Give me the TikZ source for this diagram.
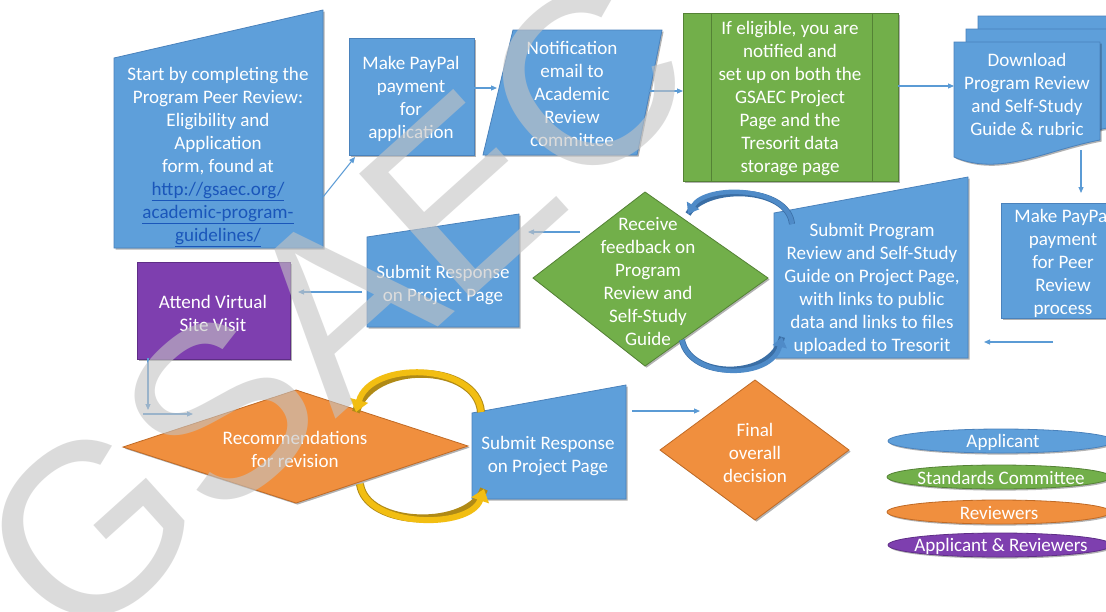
\documentclass[tikz,border=0pt]{standalone}
\usepackage{fontspec}
\setmainfont{Carlito}
\newfontfamily\wmfont{Liberation Sans}
\usetikzlibrary{arrows.meta,shadows}
\definecolor{bfill}{HTML}{5E9FDA}
\definecolor{bdraw}{HTML}{4A82BC}
\definecolor{gfill}{HTML}{72AF4A}
\definecolor{gdraw}{HTML}{548235}
\definecolor{ofill}{HTML}{F08F3E}
\definecolor{odraw}{HTML}{C06A25}
\definecolor{pfill}{HTML}{7E3FAF}
\definecolor{pdraw}{HTML}{5E2D86}
\definecolor{linkc}{HTML}{1A56BA}
\definecolor{conn}{HTML}{5B9BD5}
\definecolor{yfill}{HTML}{F2BE12}
\definecolor{ydraw}{HTML}{B08A16}
\definecolor{carc}{HTML}{4F8BC8}
\definecolor{carcd}{HTML}{3A6EA5}
\definecolor{wmgray}{HTML}{C4C4C4}
\tikzset{
  shd/.style={drop shadow={shadow xshift=1.2pt,shadow yshift=-1.2pt,opacity=0.3,fill=black}},
  bshape/.style={fill=bfill,draw=bdraw,line width=0.6pt,shd},
  gshape/.style={fill=gfill,draw=gdraw,line width=0.6pt,shd},
  oshape/.style={fill=ofill,draw=odraw,line width=0.6pt,shd},
  pshape/.style={fill=pfill,draw=pdraw,line width=0.6pt,shd},
  txt/.style={text=white,align=center,inner sep=0pt,font=\fontsize{14.3}{17.25}\selectfont},
  ltxt/.style={text=white,align=center,inner sep=0pt,font=\fontsize{14.3}{16}\selectfont},
  conarrow/.style={draw=conn,line width=0.8pt,-{Triangle[length=4.5pt,width=3.75pt]}},
  bluearc/.style={draw=carc,line width=3.4pt,-{Triangle[length=7.5pt,width=10.5pt]},
     preaction={draw=carcd,line width=4.5pt,-}},
  yelarc/.style={draw=yfill,line width=4.5pt,-{Triangle[length=9pt,width=13.5pt]},
     preaction={draw=ydraw,line width=6pt,-}},
  wm/.style={font=\wmfont\fontsize{182}{182}\selectfont,text=wmgray,opacity=0.6,rotate=42,inner sep=0pt}
}
\newcommand{\ul}[1]{\underline{#1}}
\begin{document}
\begin{tikzpicture}[x=0.75pt,y=-0.75pt]
\useasboundingbox (0,0) rectangle (1106,611);
\fill[white] (0,0) rectangle (1106,611);

% ---- shapes ----
\path[bshape] (114,58) -- (323,10) -- (323,248) -- (114,248) -- cycle;
\path[bshape] (349,38) rectangle (474,155);
\path[bshape] (483,155) -- (513,30) -- (662,30) -- (637,155) -- cycle;
\path[gshape] (683,13) rectangle (898,181);
\draw[gdraw,line width=0.6pt] (711,13) -- (711,181) (872,13) -- (872,181);
\path[bshape] (978,16) -- (1124,16) -- (1124,114) .. controls (1070,124) and (1024,151) .. (978,131) -- cycle;
\path[bshape] (966,29) -- (1112,29) -- (1112,127) .. controls (1058,137) and (1012,164) .. (966,144) -- cycle;
\path[bshape] (954,42) -- (1100,42) -- (1100,140) .. controls (1046,150) and (1000,177) .. (954,157) -- cycle;
\path[bshape] (1001,203) rectangle (1125,318);
\path[bshape] (774,213) -- (968,177) -- (968,358) -- (774,358) -- cycle;
\path[gshape] (533,278) -- (645,192) -- (768,278) -- (645,366) -- cycle;
\path[bshape] (367,237) -- (519,214) -- (519,327) -- (367,327) -- cycle;
\path[pshape] (137,262) rectangle (290,359);
\path[oshape] (123,447) -- (296,390) -- (468,446) -- (296,503) -- cycle;
\path[bshape] (472,413) -- (626,385) -- (626,499) -- (472,499) -- cycle;
\path[oshape] (660,450) -- (755,380) -- (849,450) -- (755,520) -- cycle;
\path[fill=bfill,draw=bdraw,line width=0.6pt,shd] (1001,441) ellipse [x radius=113,y radius=12];
\path[fill=gfill,draw=gdraw,line width=0.6pt,shd] (999,477) ellipse [x radius=112,y radius=12];
\path[fill=ofill,draw=odraw,line width=0.6pt,shd] (999,512) ellipse [x radius=112,y radius=12];
\path[fill=pfill,draw=pdraw,line width=0.6pt,shd] (1000,545) ellipse [x radius=112,y radius=12];

% ---- texts ----
\node[txt] (start) at (218,157) {Start by completing the\\Program Peer Review:\\Eligibility and\\Application\\form, found at\\
  \textcolor{linkc}{\ul{http://gsaec.org/}}\\\textcolor{linkc}{\ul{academic-program-}}\\\textcolor{linkc}{\ul{guidelines/}}};
\node[txt] (pay1) at (411,99) {Make PayPal\\payment\\for\\application};
\node[txt] (notif) at (572,94) {Notification\\email to\\Academic\\Review\\committee};
\node[txt] (elig) at (790,99) {If eligible, you are\\notified and\\set up on both the\\GSAEC Project\\Page and the\\Tresorit data\\storage page};
\node[txt] (down) at (1027,94) {Download\\Program Review\\and Self-Study\\Guide \& rubric};
\node[txt] (pay2) at (1063,263) {Make PayPal\\payment\\for Peer\\Review\\process};
\node[txt] (subprog) at (872,289) {Submit Program\\Review and Self-Study\\Guide on Project Page,\\with links to public\\data and links to files\\uploaded to Tresorit};
\node[txt] (recv) at (648,282) {Receive\\feedback on\\Program\\Review and\\Self-Study\\Guide};
\node[txt] (subresp1) at (443,285) {Submit Response\\on Project Page};
\node[txt] (visit) at (213,313) {Attend Virtual\\Site Visit};
\node[txt] (recom) at (295,449) {Recommendations\\for revision};
\node[txt] (subresp2) at (548,456) {Submit Response\\on Project Page};
\node[txt] (final) at (755,453) {Final\\overall\\decision};
\node[ltxt] (lg1) at (1003,442) {Applicant};
\node[ltxt] (lg2) at (1001,478) {Standards Committee};
\node[ltxt] (lg3) at (999,513) {Reviewers};
\node[ltxt] (lg4) at (1001,546) {Applicant \& Reviewers};

% ---- connector coordinates ----
\coordinate (c1s) at (323,197); \coordinate (c1e) at (355,157);
\coordinate (c2s) at (474,88);  \coordinate (c2e) at (497,88);
\coordinate (c3s) at (648,91);  \coordinate (c3e) at (683,91);
\coordinate (c4s) at (898,86);  \coordinate (c4e) at (954,86);
\coordinate (c5s) at (1081,150);\coordinate (c5e) at (1081,193);
\coordinate (c6s) at (1053,342);\coordinate (c6e) at (984,342);
\coordinate (c7s) at (580,232); \coordinate (c7e) at (528,232);
\coordinate (c8s) at (362,292); \coordinate (c8e) at (298,292);
\coordinate (c9s) at (148,358); \coordinate (c9e) at (148,410);
\coordinate (c10s) at (143,414);\coordinate (c10e) at (193,414);
\coordinate (c11s) at (632,411);\coordinate (c11e) at (700,411);
\foreach \i in {1,...,11} {\draw[conarrow] (c\i s) -- (c\i e);}

% curved arrows
\coordinate (b1s) at (792,224); \coordinate (b1e) at (688,214);
\coordinate (b2s) at (682,340); \coordinate (b2e) at (782,337);
\draw[bluearc] (b1s) .. controls (788,186) and (706,184) .. (b1e);
\draw[bluearc] (b2s) .. controls (690,380) and (772,380) .. (b2e);
\coordinate (y1s) at (481,412); \coordinate (y1e) at (356,412);
\coordinate (y2s) at (360,484); \coordinate (y2e) at (484,489);
\draw[yelarc] (y1s) .. controls (477,362) and (370,360) .. (y1e);
\draw[yelarc] (y2s) .. controls (366,528) and (470,530) .. (y2e);

% watermark
\node[wm] (wmark) at (335,308) {GSAEC};
\end{tikzpicture}
\end{document}
